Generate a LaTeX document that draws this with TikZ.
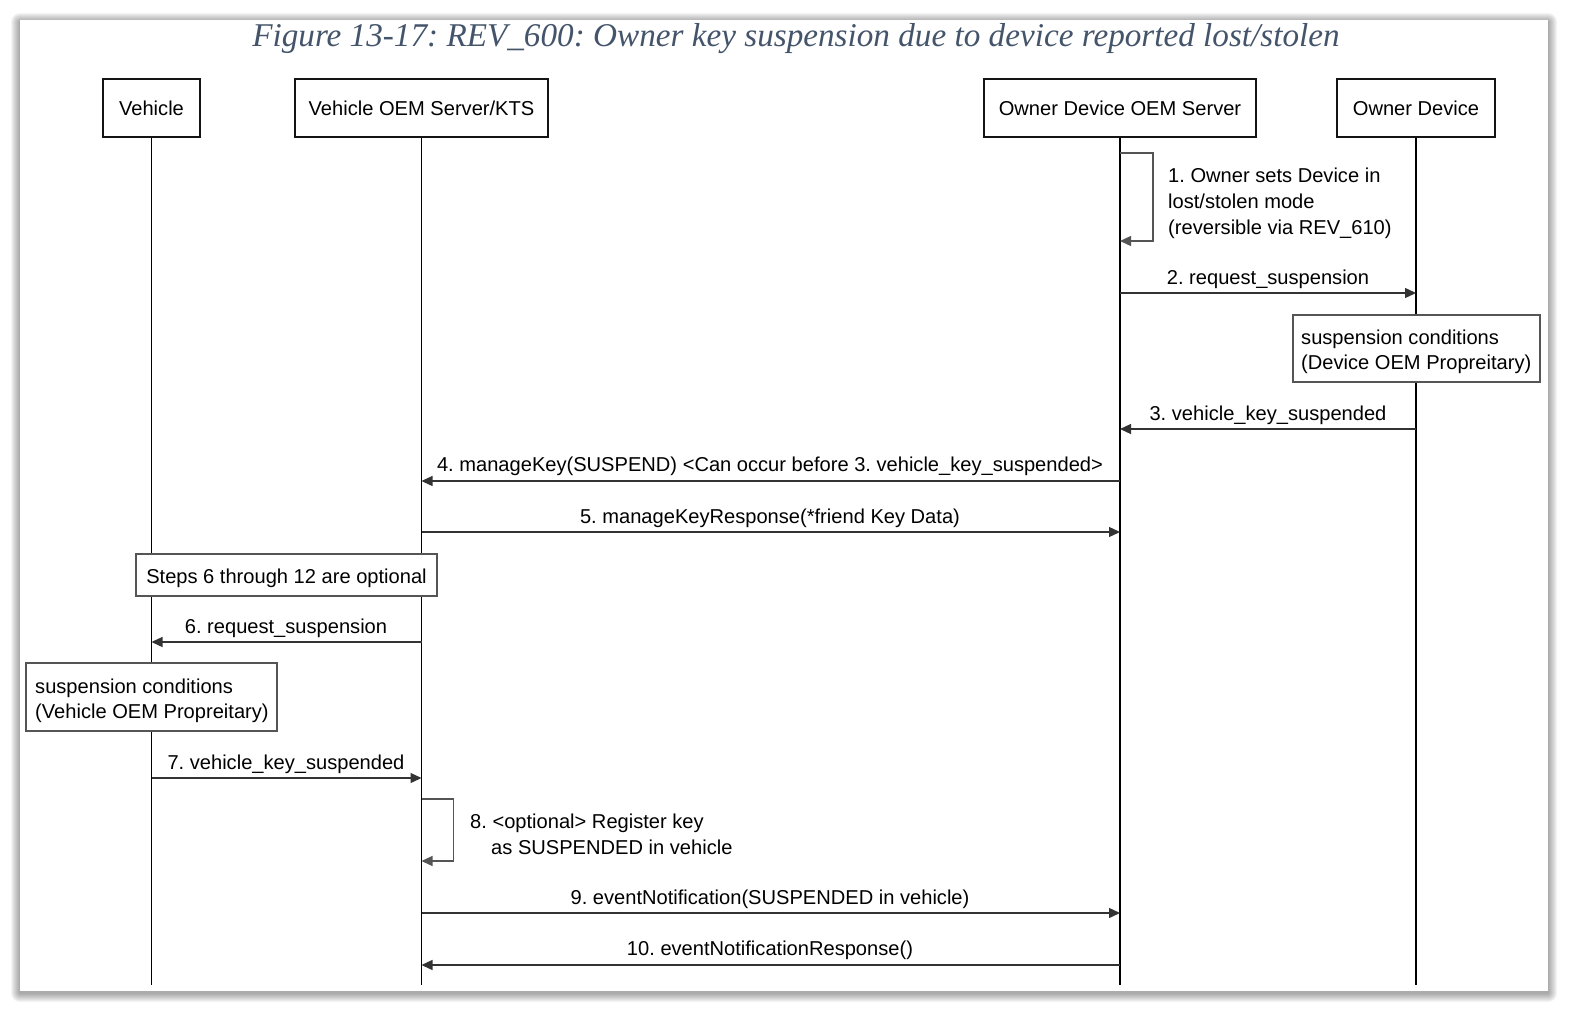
\documentclass[tikz,border=0pt]{standalone}
\usepackage{fontspec}
\setmainfont{Liberation Sans}
\newfontfamily\titlefont{Liberation Serif}
\usetikzlibrary{arrows.meta}
\definecolor{titleblue}{HTML}{44546A}
\definecolor{msggray}{HTML}{333333}
\definecolor{notegray}{HTML}{555555}
\frenchspacing
\begin{document}
\begin{tikzpicture}[x=1pt,y=-1pt,
  txt/.style={font=\fontsize{20.1}{26}\selectfont},
  notetxt/.style={font=\fontsize{20.1}{25}\selectfont, anchor=north west, align=left, inner sep=0pt},
  actor/.style={draw=black!92, line width=1.7pt, minimum height=58pt, inner sep=0pt, txt},
  lifeline/.style={draw=black, line width=1.7pt},
  msg/.style={draw=msggray, line width=1.3pt, -{Triangle[length=11pt,width=10pt]}},
  loopmsg/.style={draw=notegray, line width=1.3pt, -{Triangle[length=11pt,width=10pt]}},
  note/.style={draw=notegray, line width=1.3pt, fill=white, inner sep=0pt},
  lbl/.style={txt, anchor=base, inner sep=0pt},
]
\useasboundingbox (0,0) rectangle (1570,1012);
% card shadow
\foreach \i in {1,...,9}{
  \fill[black, opacity=0.045, rounded corners=\i pt] (20-\i,20-\i+2) rectangle (1548+\i,991+\i+2);
}
\fill[white] (20,20) rectangle (1548,991);
% title
\node[font=\titlefont\itshape\fontsize{33.2}{38}\selectfont, text=titleblue, inner sep=0pt, anchor=base] (title) at (796,46) {Figure 13-17: REV\_600: Owner key suspension due to device reported lost/stolen};

% actors
\node[actor, minimum width=97pt] (veh) at (151.5,108) {Vehicle};
\node[actor, minimum width=253pt] (kts) at (421.5,108) {Vehicle OEM Server/KTS};
\node[actor, minimum width=272pt] (ods) at (1120,108) {Owner Device OEM Server};
\node[actor, minimum width=158pt] (od) at (1416,108) {Owner Device};

% lifeline ends
\coordinate (vehE) at (151.5,985);
\coordinate (ktsE) at (421.5,985);
\coordinate (odsE) at (1120,985);
\coordinate (odE) at (1416,985);
\draw[lifeline] (veh.south) -- (vehE);
\draw[lifeline] (kts.south) -- (ktsE);
\draw[lifeline] (ods.south) -- (odsE);
\draw[lifeline] (od.south) -- (odE);

% message points
\coordinate (s1a) at (1120,153); \coordinate (s1b) at (1120,241);
\coordinate (m2a) at (1120,293); \coordinate (m2b) at (1416,293);
\coordinate (m3a) at (1416,429); \coordinate (m3b) at (1120,429);
\coordinate (m4a) at (1120,481); \coordinate (m4b) at (421.5,481);
\coordinate (m5a) at (421.5,532); \coordinate (m5b) at (1120,532);
\coordinate (m6a) at (421.5,642); \coordinate (m6b) at (151.5,642);
\coordinate (m7a) at (151.5,778); \coordinate (m7b) at (421.5,778);
\coordinate (s8a) at (421.5,799); \coordinate (s8b) at (421.5,861);
\coordinate (m9a) at (421.5,913); \coordinate (m9b) at (1120,913);
\coordinate (m10a) at (1120,965); \coordinate (m10b) at (421.5,965);

% 1
\draw[loopmsg] (s1a) -- ++(33,0) |- (s1b);
\node[txt, anchor=north west, align=left, inner sep=0pt] (l1) at (1168,168) {1. Owner sets Device in\\lost/stolen mode\\(reversible via REV\_610)};
% 2
\draw[msg] (m2a) -- (m2b);
\node[lbl] (l2) at (1268,284) {2. request\_suspension};
% note device
\node[note, minimum width=247pt, minimum height=67pt] (n1) at (1416.5,348.5) {};
\node[notetxt] (n1t) at (1301,330) {suspension conditions\\(Device OEM Propreitary)};
% 3
\draw[msg] (m3a) -- (m3b);
\node[lbl] (l3) at (1268,420) {3. vehicle\_key\_suspended};
% 4
\draw[msg] (m4a) -- (m4b);
\node[lbl] (l4) at (770,471) {4. manageKey(SUSPEND) <Can occur before 3. vehicle\_key\_suspended>};
% 5
\draw[msg] (m5a) -- (m5b);
\node[lbl] (l5) at (770,523) {5. manageKeyResponse(*friend Key Data)};
% steps note
\node[note, minimum width=301pt, minimum height=42pt] (n2) at (286.5,575) {};
\node[lbl] (n2t) at (286.5,583) {Steps 6 through 12 are optional};
% 6
\draw[msg] (m6a) -- (m6b);
\node[lbl] (l6) at (286,633) {6. request\_suspension};
% vehicle note
\node[note, minimum width=251pt, minimum height=68pt] (n3) at (151.5,697) {};
\node[notetxt] (n3t) at (35,679) {suspension conditions\\(Vehicle OEM Propreitary)};
% 7
\draw[msg] (m7a) -- (m7b);
\node[lbl] (l7) at (286,769) {7. vehicle\_key\_suspended};
% 8
\draw[loopmsg] (s8a) -- ++(32,0) |- (s8b);
\node[txt, anchor=north west, align=left, inner sep=0pt] (l8) at (470,814) {8. <optional> Register key\\\hspace*{21pt}as SUSPENDED in vehicle};
% 9
\draw[msg] (m9a) -- (m9b);
\node[lbl] (l9) at (770,904) {9. eventNotification(SUSPENDED in vehicle)};
% 10
\draw[msg] (m10a) -- (m10b);
\node[lbl] (l10) at (770,955) {10. eventNotificationResponse()};
\end{tikzpicture}
\end{document}
